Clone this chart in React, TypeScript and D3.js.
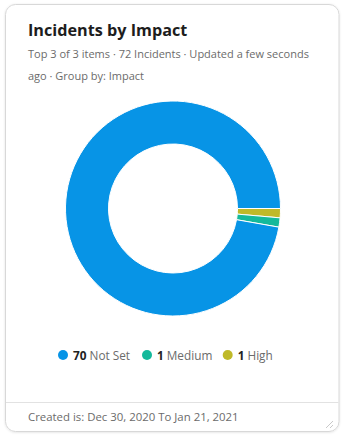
import React from "react";
import * as d3 from "d3";

const categories = ["Not Set", "Medium", "High"];
const values = [70, 1, 1];
const colors = ["#0794e6", "#14b99b", "#bfb928"];
const title = "Incidents by Impact";
const subtitleLines = ["Top 3 of 3 items · 72 Incidents · Updated a few seconds", "ago · Group by: Impact"];
const footer = "Created is: Dec 30, 2020 To Jan 21, 2021";

const W = 345;
const H = 437;
const FONT = "'Open Sans', sans-serif";

export default function App() {
  const cx = 173;
  const cy = 208.5;
  const outerR = 107.5;
  const innerR = 64.5;

  const data = categories.map((c, i) => ({ c, v: values[i], color: colors[i] }));
  // drawn clockwise from 3 o'clock: High, Medium, Not Set
  const ordered = [...data].reverse();
  const pie = d3
    .pie<any>()
    .sort(null)
    .value((d) => d.v)
    .startAngle(Math.PI / 2)
    .endAngle(Math.PI / 2 + 2 * Math.PI);
  const arcs = pie(ordered);
  const arc = d3.arc<any>().innerRadius(innerR).outerRadius(outerR);

  const legendX = [63, 147, 227.7];

  return (
    <svg width={W} height={H} style={{ position: "absolute", left: 0, top: 0 }} fontFamily={FONT}>
      <defs>
        <filter id="sh" x="-5%" y="-5%" width="110%" height="110%">
          <feDropShadow dx="0" dy="0.5" stdDeviation="0.8" floodColor="#000" floodOpacity="0.12" />
        </filter>
      </defs>
      <rect x={5.5} y={4.5} width={333.5} height={427} rx={10} fill="#fff" stroke="#d8d8d8" strokeWidth={1} filter="url(#sh)" />
      <text x={28} y={36} fontSize={16.2} fontWeight={700} fill="#1d1d1d">{title}</text>
      {subtitleLines.map((l, i) => (
        <text key={i} x={28} y={57.5 + i * 22} fontSize={11} fill="#6b6b6b">
          {l}
        </text>
      ))}
      <g transform={`translate(${cx},${cy})`}>
        {arcs.map((a, i) => (
          <path key={i} d={arc(a) as string} fill={a.data.color} stroke="#fff" strokeWidth={1} />
        ))}
      </g>
      {data.map((d, i) => (
        <g key={d.c}>
          <circle cx={legendX[i]} cy={355} r={5} fill={d.color} />
          <text x={legendX[i] + 10} y={359.5} fontSize={11.8} fill="#6b6b6b">
            <tspan fontWeight={700} fill="#222">{d.v}</tspan>
            <tspan dx={3}>{d.c}</tspan>
          </text>
        </g>
      ))}
      <line x1={6} x2={338.5} y1={402.5} y2={402.5} stroke="#e2e2e2" strokeWidth={1} />
      <text x={28} y={421} fontSize={11.4} fill="#6b6b6b">{footer}</text>
      <line x1={326} y1={428} x2={333} y2={421} stroke="#bbb" strokeWidth={0.8} />
      <line x1={330} y1={428} x2={333} y2={425} stroke="#bbb" strokeWidth={0.8} />
    </svg>
  );
}
